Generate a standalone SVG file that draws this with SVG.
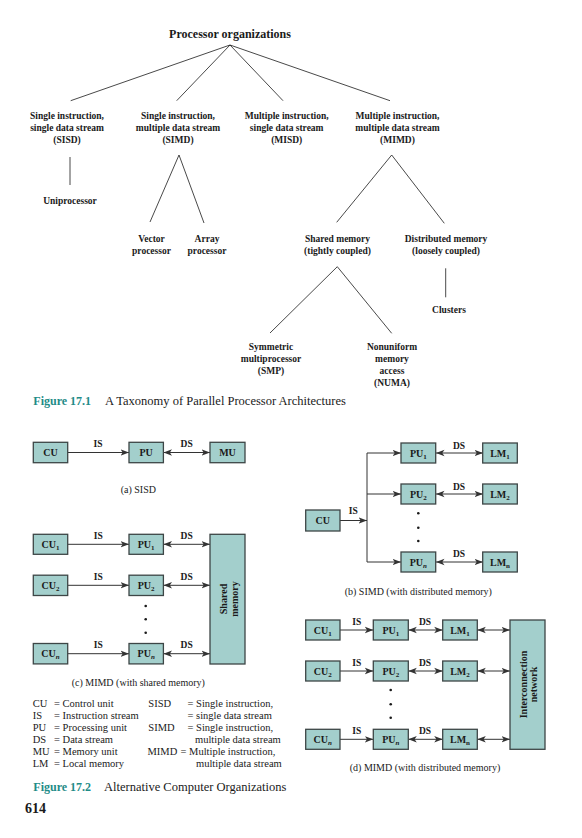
<svg xmlns="http://www.w3.org/2000/svg" width="582" height="838" viewBox="0 0 582 838">
<defs>
<style>
text{font-family:"Liberation Serif","Times New Roman",serif;fill:#1a1a1a}
.ttl{font-size:12px;font-weight:bold;text-anchor:middle}
.lb{font-size:9.5px;font-weight:bold;text-anchor:middle}
.tr{stroke:#1a1a1a;stroke-width:0.8;fill:none}
.box{fill:#a3cfcc;stroke:#3d4646;stroke-width:1.3}
.bt{font-size:10px;font-weight:bold;text-anchor:middle}
.sub{font-size:7px}
.ar{stroke:#333;stroke-width:1;fill:none;marker-end:url(#ah)}
.da{stroke:#333;stroke-width:1;fill:none;marker-end:url(#ah);marker-start:url(#ah)}
.cap{font-size:10px;text-anchor:middle}
.lg{font-size:10.5px}
.fig{font-size:12px;font-weight:bold;fill:#1f8c88}
.fc{font-size:12.5px}
.dot{fill:#1a1a1a}
</style>
<marker id="ah" markerUnits="userSpaceOnUse" markerWidth="10" markerHeight="8" refX="8.5" refY="3.75" orient="auto-start-reverse">
<path d="M0,0.5 L8.5,3.75 L0,7 L2.2,3.75 z" fill="#333"/>
</marker>
</defs>

<!-- Figure 17.1 taxonomy -->
<g id="tree-connectors">
<path class="tr" d="M230,45 L70.7,100.7 M230,45 L176.7,100.7 M230,45 L283,100.7 M230,45 L390,100.7"/>
<path class="tr" d="M70,157 L70,185"/>
<path class="tr" d="M150,222 L179,155 L204,223"/>
<path class="tr" d="M336.7,222.3 L391.7,155 L444.3,223.3"/>
<path class="tr" d="M270,333 L337.3,266.7 L391.7,333.3"/>
<path class="tr" d="M445.7,268.3 L445.7,297.3"/>
</g>
<g id="root"><text class="ttl" x="230" y="37.5">Processor organizations</text></g>
<g id="sisd-cat"><text class="lb" x="67" y="118.5">Single instruction,</text><text class="lb" x="67" y="130.5">single data stream</text><text class="lb" x="67" y="142.5">(SISD)</text></g>
<g id="simd-cat"><text class="lb" x="178" y="118.5">Single instruction,</text><text class="lb" x="178" y="130.5">multiple data stream</text><text class="lb" x="178" y="142.5">(SIMD)</text></g>
<g id="misd-cat"><text class="lb" x="286.7" y="118.5">Multiple instruction,</text><text class="lb" x="286.7" y="130.5">single data stream</text><text class="lb" x="286.7" y="142.5">(MISD)</text></g>
<g id="mimd-cat"><text class="lb" x="397.5" y="118.5">Multiple instruction,</text><text class="lb" x="397.5" y="130.5">multiple data stream</text><text class="lb" x="397.5" y="142.5">(MIMD)</text></g>
<g id="uniprocessor"><text class="lb" x="70" y="204">Uniprocessor</text></g>
<g id="vector"><text class="lb" x="151.5" y="241.5">Vector</text><text class="lb" x="151.5" y="253.5">processor</text></g>
<g id="array"><text class="lb" x="207" y="241.5">Array</text><text class="lb" x="207" y="253.5">processor</text></g>
<g id="shared"><text class="lb" x="337.5" y="241.5">Shared memory</text><text class="lb" x="337.5" y="253.5">(tightly coupled)</text></g>
<g id="distributed"><text class="lb" x="446" y="241.5">Distributed memory</text><text class="lb" x="446" y="253.5">(loosely coupled)</text></g>
<g id="clusters"><text class="lb" x="449" y="313">Clusters</text></g>
<g id="smp"><text class="lb" x="271" y="349.5">Symmetric</text><text class="lb" x="271" y="361.5">multiprocessor</text><text class="lb" x="271" y="373.5">(SMP)</text></g>
<g id="numa"><text class="lb" x="392" y="349.5">Nonuniform</text><text class="lb" x="392" y="361.5">memory</text><text class="lb" x="392" y="373.5">access</text><text class="lb" x="392" y="385.5">(NUMA)</text></g>
<g id="caption1"><text x="33.3" y="405"><tspan class="fig">Figure 17.1</tspan></text><text class="fc" x="105" y="405">A Taxonomy of Parallel Processor Architectures</text></g>

<!-- Figure 17.2 connectors -->
<g id="connectors">
<!-- (a) SISD -->
<line class="ar" x1="68" y1="452.5" x2="129" y2="452.5"/>
<line class="da" x1="163.5" y1="452.5" x2="210" y2="452.5"/>
<!-- (b) SIMD -->
<line class="ar" x1="340" y1="520.5" x2="367" y2="520.5"/>
<path class="tr" style="stroke:#333;stroke-width:1" d="M367,453 L367,562"/>
<line class="ar" x1="367" y1="453" x2="401" y2="453"/>
<line class="ar" x1="367" y1="494" x2="401" y2="494"/>
<line class="ar" x1="367" y1="562" x2="401" y2="562"/>
<line class="da" x1="436" y1="453" x2="483" y2="453"/>
<line class="da" x1="436" y1="494" x2="483" y2="494"/>
<line class="da" x1="436" y1="562" x2="483" y2="562"/>
<!-- (c) MIMD shared -->
<line class="ar" x1="68" y1="544.3" x2="129" y2="544.3"/>
<line class="ar" x1="68" y1="585.3" x2="129" y2="585.3"/>
<line class="ar" x1="68" y1="653.7" x2="129" y2="653.7"/>
<line class="da" x1="163.5" y1="544.3" x2="210" y2="544.3"/>
<line class="da" x1="163.5" y1="585.3" x2="210" y2="585.3"/>
<line class="da" x1="163.5" y1="653.7" x2="210" y2="653.7"/>
<!-- (d) MIMD distributed -->
<line class="ar" x1="340" y1="630" x2="373.3" y2="630"/>
<line class="ar" x1="340" y1="671" x2="373.3" y2="671"/>
<line class="ar" x1="340" y1="739.3" x2="373.3" y2="739.3"/>
<line class="da" x1="408.3" y1="630" x2="442.7" y2="630"/>
<line class="da" x1="408.3" y1="671" x2="442.7" y2="671"/>
<line class="da" x1="408.3" y1="739.3" x2="442.7" y2="739.3"/>
<line class="da" x1="477.3" y1="630" x2="510" y2="630"/>
<line class="da" x1="477.3" y1="671" x2="510" y2="671"/>
<line class="da" x1="477.3" y1="739.3" x2="510" y2="739.3"/>
</g>

<!-- connector labels -->
<g id="conn-labels">
<text class="lb" x="98" y="447">IS</text>
<text class="lb" x="186.7" y="447">DS</text>
<text class="lb" x="353.3" y="513.5">IS</text>
<text class="lb" x="459" y="448.5">DS</text>
<text class="lb" x="459" y="489.5">DS</text>
<text class="lb" x="459" y="557">DS</text>
<text class="lb" x="98.3" y="538.5">IS</text>
<text class="lb" x="98.3" y="579.5">IS</text>
<text class="lb" x="98.3" y="648">IS</text>
<text class="lb" x="186.7" y="538.5">DS</text>
<text class="lb" x="186.7" y="579.5">DS</text>
<text class="lb" x="186.7" y="648">DS</text>
<text class="lb" x="356.7" y="625">IS</text>
<text class="lb" x="356.7" y="666">IS</text>
<text class="lb" x="356.7" y="734">IS</text>
<text class="lb" x="425" y="625">DS</text>
<text class="lb" x="425" y="666">DS</text>
<text class="lb" x="425" y="734">DS</text>
</g>

<!-- (a) SISD nodes -->
<g id="a-cu"><rect class="box" x="33.3" y="442.3" width="34.4" height="20.4"/><text class="bt" x="50.5" y="456">CU</text></g>
<g id="a-pu"><rect class="box" x="129" y="442.3" width="34.4" height="20.4"/><text class="bt" x="146.2" y="456">PU</text></g>
<g id="a-mu"><rect class="box" x="210" y="442.3" width="35" height="20.4"/><text class="bt" x="227.5" y="456">MU</text></g>
<text class="cap" x="138.3" y="492.5">(a) SISD</text>

<!-- (b) SIMD nodes -->
<g id="b-cu"><rect class="box" x="305.7" y="510" width="34.3" height="21"/><text class="bt" x="322.8" y="524">CU</text></g>
<g id="b-pu1"><rect class="box" x="401" y="443" width="34.7" height="20"/><text class="bt" x="418.3" y="456.5">PU<tspan class="sub" dy="2">1</tspan></text></g>
<g id="b-pu2"><rect class="box" x="401" y="484" width="34.7" height="20"/><text class="bt" x="418.3" y="497.5">PU<tspan class="sub" dy="2">2</tspan></text></g>
<g id="b-pun"><rect class="box" x="401" y="552" width="34.7" height="20"/><text class="bt" x="418.3" y="565.5">PU<tspan class="sub" dy="2" font-style="italic">n</tspan></text></g>
<g id="b-lm1"><rect class="box" x="482.7" y="443" width="34.6" height="20"/><text class="bt" x="500" y="456.5">LM<tspan class="sub" dy="2">1</tspan></text></g>
<g id="b-lm2"><rect class="box" x="482.7" y="484" width="34.6" height="20"/><text class="bt" x="500" y="497.5">LM<tspan class="sub" dy="2">2</tspan></text></g>
<g id="b-lmn"><rect class="box" x="482.7" y="552" width="34.6" height="20"/><text class="bt" x="500" y="565.5">LM<tspan class="sub" dy="2">n</tspan></text></g>
<circle class="dot" cx="418.3" cy="513.3" r="1.3"/><circle class="dot" cx="418.3" cy="527.7" r="1.3"/><circle class="dot" cx="418.3" cy="541" r="1.3"/>
<text class="cap" x="418.3" y="594.5">(b) SIMD (with distributed memory)</text>

<!-- (c) MIMD shared memory nodes -->
<g id="c-cu1"><rect class="box" x="33.3" y="534.3" width="34.4" height="20"/><text class="bt" x="50.5" y="547.8">CU<tspan class="sub" dy="2">1</tspan></text></g>
<g id="c-cu2"><rect class="box" x="33.3" y="575.2" width="34.4" height="20.3"/><text class="bt" x="50.5" y="588.8">CU<tspan class="sub" dy="2">2</tspan></text></g>
<g id="c-cun"><rect class="box" x="33.3" y="643.5" width="34.4" height="20.4"/><text class="bt" x="50.5" y="657.2">CU<tspan class="sub" dy="2" font-style="italic">n</tspan></text></g>
<g id="c-pu1"><rect class="box" x="129" y="534.3" width="34.4" height="20"/><text class="bt" x="146.2" y="547.8">PU<tspan class="sub" dy="2">1</tspan></text></g>
<g id="c-pu2"><rect class="box" x="129" y="575.2" width="34.4" height="20.3"/><text class="bt" x="146.2" y="588.8">PU<tspan class="sub" dy="2">2</tspan></text></g>
<g id="c-pun"><rect class="box" x="129" y="643.5" width="34.4" height="20.4"/><text class="bt" x="146.2" y="657.2">PU<tspan class="sub" dy="2" font-style="italic">n</tspan></text></g>
<g id="c-shared"><rect class="box" x="210" y="534.3" width="35" height="129.7"/>
<g transform="translate(227.5,599) rotate(-90)"><text class="bt" x="0" y="-0.5">Shared</text><text class="bt" x="0" y="10.5">memory</text></g></g>
<circle class="dot" cx="145.7" cy="606" r="1.3"/><circle class="dot" cx="145.7" cy="619.3" r="1.3"/><circle class="dot" cx="145.7" cy="632.7" r="1.3"/>
<text class="cap" x="138.3" y="686">(c) MIMD (with shared memory)</text>

<!-- (d) MIMD distributed memory nodes -->
<g id="d-cu1"><rect class="box" x="305.7" y="620" width="34.3" height="20"/><text class="bt" x="322.8" y="633.5">CU<tspan class="sub" dy="2">1</tspan></text></g>
<g id="d-cu2"><rect class="box" x="305.7" y="661" width="34.3" height="20"/><text class="bt" x="322.8" y="674.5">CU<tspan class="sub" dy="2">2</tspan></text></g>
<g id="d-cun"><rect class="box" x="305.7" y="729.3" width="34.3" height="20"/><text class="bt" x="322.8" y="742.8">CU<tspan class="sub" dy="2" font-style="italic">n</tspan></text></g>
<g id="d-pu1"><rect class="box" x="373.3" y="620" width="35" height="20"/><text class="bt" x="390.8" y="633.5">PU<tspan class="sub" dy="2">1</tspan></text></g>
<g id="d-pu2"><rect class="box" x="373.3" y="661" width="35" height="20"/><text class="bt" x="390.8" y="674.5">PU<tspan class="sub" dy="2">2</tspan></text></g>
<g id="d-pun"><rect class="box" x="373.3" y="729.3" width="35" height="20"/><text class="bt" x="390.8" y="742.8">PU<tspan class="sub" dy="2" font-style="italic">n</tspan></text></g>
<g id="d-lm1"><rect class="box" x="442.7" y="620" width="34.6" height="20"/><text class="bt" x="460" y="633.5">LM<tspan class="sub" dy="2">1</tspan></text></g>
<g id="d-lm2"><rect class="box" x="442.7" y="661" width="34.6" height="20"/><text class="bt" x="460" y="674.5">LM<tspan class="sub" dy="2">2</tspan></text></g>
<g id="d-lmn"><rect class="box" x="442.7" y="729.3" width="34.6" height="20"/><text class="bt" x="460" y="742.8">LM<tspan class="sub" dy="2">n</tspan></text></g>
<g id="d-net"><rect class="box" x="510" y="620" width="35" height="129.3"/>
<g transform="translate(527.5,684.5) rotate(-90)"><text class="bt" x="0" y="-0.5">Interconnection</text><text class="bt" x="0" y="9.5">network</text></g></g>
<circle class="dot" cx="390.7" cy="690" r="1.3"/><circle class="dot" cx="390.7" cy="704.3" r="1.3"/><circle class="dot" cx="390.7" cy="717.7" r="1.3"/>
<text class="cap" x="425" y="771">(d) MIMD (with distributed memory)</text>

<!-- Legend -->
<g id="legend" class="lg">
<text class="lg" x="32.7" y="707">CU</text><text class="lg" x="54" y="707">= Control unit</text>
<text class="lg" x="32.7" y="719">IS</text><text class="lg" x="54" y="719">= Instruction stream</text>
<text class="lg" x="32.7" y="731">PU</text><text class="lg" x="54" y="731">= Processing unit</text>
<text class="lg" x="32.7" y="743">DS</text><text class="lg" x="54" y="743">= Data stream</text>
<text class="lg" x="32.7" y="755">MU</text><text class="lg" x="54" y="755">= Memory unit</text>
<text class="lg" x="32.7" y="767">LM</text><text class="lg" x="54" y="767">= Local memory</text>
<text class="lg" x="148.3" y="707">SISD</text><text class="lg" x="187.5" y="707">= Single instruction,</text>
<text class="lg" x="187.5" y="719">= single data stream</text>
<text class="lg" x="148.3" y="731">SIMD</text><text class="lg" x="187.5" y="731">= Single instruction,</text>
<text class="lg" x="195" y="743">multiple data stream</text>
<text class="lg" x="147.5" y="755">MIMD</text><text class="lg" x="180.5" y="755">= Multiple instruction,</text>
<text class="lg" x="196" y="767">multiple data stream</text>
</g>

<g id="caption2"><text x="33.3" y="791"><tspan class="fig">Figure 17.2</tspan></text><text class="fc" x="104" y="791">Alternative Computer Organizations</text></g>
<text x="25" y="813" style="font-size:14px;font-weight:bold">614</text>
</svg>
